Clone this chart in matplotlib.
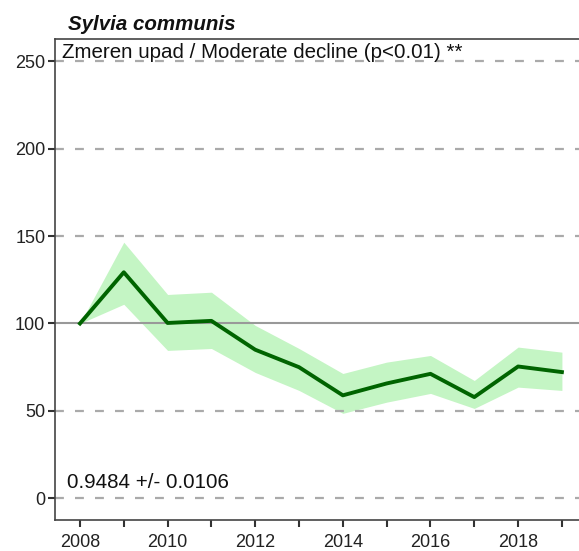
import matplotlib.pyplot as plt
import numpy as np

plt.rcParams['font.family'] = ['Liberation Sans', 'DejaVu Sans']

years = [2008, 2009, 2010, 2011, 2012, 2013, 2014, 2015, 2016, 2017, 2018, 2019]
index = [100, 129.3, 100.3, 101.5, 85.0, 75.0, 58.9, 65.7, 71.2, 57.9, 75.4, 72.2]
upper = [100, 146.5, 116.6, 117.9, 98.9, 85.7, 71.4, 77.9, 81.7, 67.4, 86.5, 83.6]
lower = [100, 111.0, 84.6, 85.7, 72.0, 61.7, 48.6, 55.0, 60.0, 51.4, 63.6, 61.7]
grid_vals = [0, 50, 150, 200, 250]

fig = plt.figure(figsize=(5.79, 5.51), dpi=100)
ax = fig.add_axes([0.095, 0.056, 0.905, 0.874])

# pas zaupanja in indeks
ax.fill_between(years, lower, upper, color='#c4f5c4', lw=0)
for g in grid_vals:
    ax.axhline(g, color='#aaaaaa', lw=1.6, ls=(0, (4, 5)), zorder=1)
ax.axhline(100, color='#999999', lw=1.5, zorder=1)
ax.plot(years, index, color='#006400', lw=2.8, zorder=3)

ax.set_xlim(2007.43, 2019.39)
ax.set_ylim(-12.5, 263)
ax.set_yticks([0, 50, 100, 150, 200, 250])
ax.set_xticks(years)
ax.set_xticklabels([str(y) if y % 2 == 0 else '' for y in years])
ax.tick_params(axis='both', labelsize=13, length=5, width=1.5, color='#333333', labelcolor='#222222')
ax.tick_params(axis='y', pad=2)
ax.tick_params(axis='x', pad=5)

ax.spines['right'].set_visible(False)
for s in ['left', 'top', 'bottom']:
    ax.spines[s].set_color('#444444')
    ax.spines[s].set_linewidth(1.2)

ax.text(0.013, 0.99, 'Zmeren upad / Moderate decline (p<0.01) **', transform=ax.transAxes,
        ha='left', va='top', fontsize=14.8, color='#111111')
ax.text(2007.7, 5.7, '0.9484 +/- 0.0106',
        ha='left', va='baseline', fontsize=14.8, color='#111111')
fig.text(0.117, 0.9456, 'Sylvia communis', ha='left', va='baseline', fontsize=14.8,
         fontweight='bold', fontstyle='italic', color='#111111')

fig.savefig('out.png', dpi=100)
